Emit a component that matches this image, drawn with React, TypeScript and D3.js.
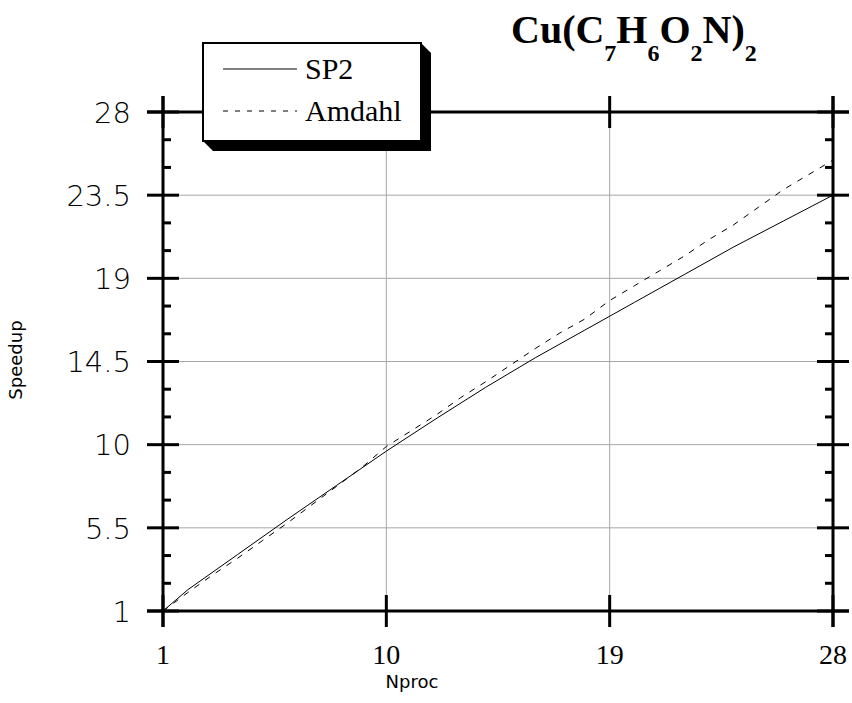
import React from 'react';
import * as d3 from 'd3';

// SP2 measured speedup
const nprocSP2 = [1, 2, 4, 6, 8, 10, 12, 14, 16, 18, 20, 22, 24, 26, 28];
const speedupSP2 = [1, 2.15, 4.05, 5.95, 7.8, 9.65, 11.4, 13.1, 14.7, 16.2, 17.7, 19.2, 20.7, 22.1, 23.5];

// Amdahl estimate
const nprocAmdahl = [1, 2, 3, 4, 5, 6, 7, 8, 9, 10, 11, 12, 13, 14, 15, 16, 17, 18, 19, 20, 21, 22, 23, 24, 25, 26, 27, 28];
const speedupAmdahl = [1, 2.0, 2.95, 3.85, 4.8, 5.75, 6.75, 7.75, 8.75, 9.9, 10.75, 11.6, 12.55, 13.4, 14.3, 15.2, 16.05, 16.8, 17.8, 18.6, 19.4, 20.2, 21.1, 21.9, 22.85, 23.8, 24.6, 25.4];

const xTicks = [1, 10, 19, 28];
const yTicks = [1, 5.5, 10, 14.5, 19, 23.5, 28];
const yMinorTicks = [2.5, 4, 7, 8.5, 11.5, 13, 16, 17.5, 20.5, 22, 25, 26.5];

const legendItems = [
  { label: 'SP2', dash: null },
  { label: 'Amdahl', dash: '5,7' },
];

export default function App() {
  const left = 163, right = 833, top = 112, bottom = 611;
  const x = d3.scaleLinear().domain([1, 28]).range([left, right]);
  const y = d3.scaleLinear().domain([1, 28]).range([bottom, top]);
  const big = 16, small = 8;

  const line = d3.line<[number, number]>().x(d => x(d[0])).y(d => y(d[1]));
  const sp2 = line(nprocSP2.map((n, i) => [n, speedupSP2[i]]));
  const amd = line(nprocAmdahl.map((n, i) => [n, speedupAmdahl[i]]));

  const serif = '"Liberation Serif", "Times New Roman", serif';
  const sans = '"DejaVu Sans", Verdana, sans-serif';

  // legend box
  const lx = 203, ly = 43, lw = 218, lh = 98, sh = 10;

  return (
    <svg width={852} height={703} style={{ position: 'absolute', left: 0, top: 0, background: '#fff' }}>
      {/* grid */}
      <g stroke="#a6a6a6" strokeWidth={1}>
        {xTicks.slice(1, -1).map(t => (
          <line key={'gx' + t} x1={x(t)} x2={x(t)} y1={top} y2={bottom} />
        ))}
        {yTicks.slice(1, -1).map(t => (
          <line key={'gy' + t} x1={left} x2={right} y1={y(t)} y2={y(t)} />
        ))}
      </g>

      {/* curves */}
      <path d={amd || ''} fill="none" stroke="#000" strokeWidth={1} strokeDasharray="6,7" />
      <path d={sp2 || ''} fill="none" stroke="#000" strokeWidth={1} />

      {/* frame and ticks */}
      <g stroke="#000" strokeWidth={3} strokeLinecap="butt">
        <line x1={left} x2={left} y1={top - big} y2={bottom + big} />
        <line x1={right} x2={right} y1={top - big} y2={bottom + big} />
        <line x1={left - big} x2={right + big} y1={top} y2={top} />
        <line x1={left - big} x2={right + big} y1={bottom} y2={bottom} />
        {yTicks.map(t => (
          <g key={'yt' + t}>
            <line x1={left - big} x2={left + big} y1={y(t)} y2={y(t)} />
            <line x1={right - big} x2={right + big} y1={y(t)} y2={y(t)} />
          </g>
        ))}
        {yMinorTicks.map(t => (
          <g key={'ym' + t}>
            <line x1={left} x2={left + small} y1={y(t)} y2={y(t)} />
            <line x1={right - small} x2={right} y1={y(t)} y2={y(t)} />
          </g>
        ))}
        {xTicks.map(t => (
          <g key={'xt' + t}>
            <line x1={x(t)} x2={x(t)} y1={bottom - big} y2={bottom + big} />
            <line x1={x(t)} x2={x(t)} y1={top - big} y2={top + big} />
          </g>
        ))}
      </g>

      {/* tick labels */}
      {yTicks.map(t => (
        <text key={'yl' + t} x={131} y={y(t)} dy="0.37em" textAnchor="end"
          fontFamily={sans} fontWeight={200} fontSize={29} fill="#000">
          {String(t)}
        </text>
      ))}
      {xTicks.map(t => (
        <text key={'xl' + t} x={x(t)} y={664} textAnchor="middle"
          fontFamily={serif} fontSize={28} fill="#000">
          {String(t)}
        </text>
      ))}

      {/* axis titles */}
      <text x={412} y={688} textAnchor="middle" fontFamily={sans} fontSize={18}>Nproc</text>
      <text transform="translate(22,360) rotate(-90)" textAnchor="middle" fontFamily={sans} fontSize={18}>Speedup</text>

      {/* title */}
      <text x={511} y={43} fontFamily={serif} fontWeight="bold" fontSize={40}>
        <tspan>Cu(C</tspan>
        <tspan fontSize={24} dy={18}>7</tspan>
        <tspan dy={-18}>H</tspan>
        <tspan fontSize={24} dy={18}>6</tspan>
        <tspan dy={-18}>O</tspan>
        <tspan fontSize={24} dy={18}>2</tspan>
        <tspan dy={-18}>N)</tspan>
        <tspan fontSize={24} dy={18}>2</tspan>
      </text>

      {/* legend */}
      <polygon
        points={`${lx + lw},${ly} ${lx + lw + sh},${ly + sh} ${lx + lw + sh},${ly + lh + sh} ${lx + sh},${ly + lh + sh} ${lx},${ly + lh}`}
        fill="#000" />
      <rect x={lx} y={ly} width={lw} height={lh} fill="#fff" stroke="#000" strokeWidth={2} />
      {legendItems.map((it, i) => (
        <g key={it.label}>
          <line x1={223} x2={297} y1={69 + i * 42} y2={69 + i * 42} stroke="#000" strokeWidth={1}
            strokeDasharray={it.dash || undefined} />
          <text x={305} y={79 + i * 42} fontFamily={serif} fontSize={30}>{it.label}</text>
        </g>
      ))}
    </svg>
  );
}
